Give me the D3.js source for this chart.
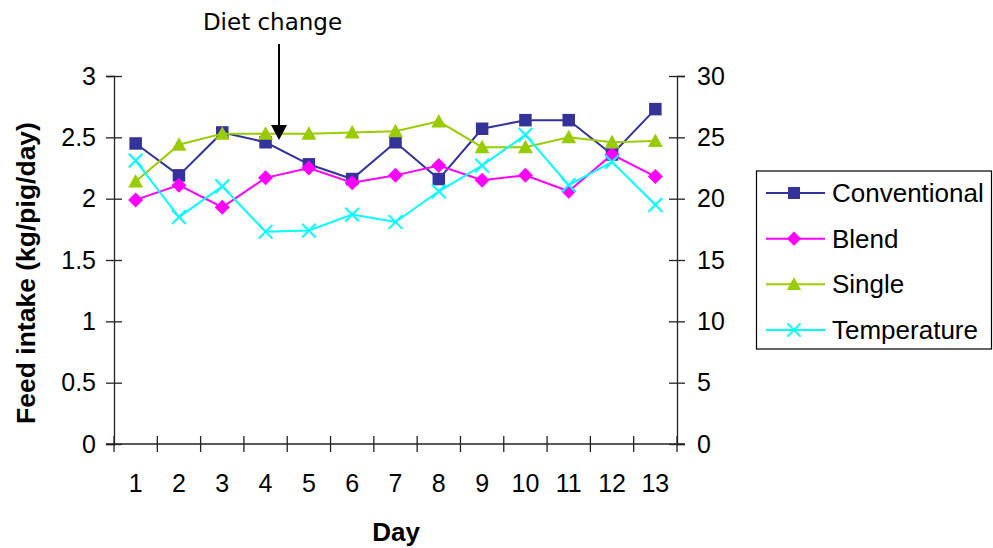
<!DOCTYPE html>
<html>
<head>
<meta charset="utf-8">
<script src="https://cdn.jsdelivr.net/npm/d3@7/dist/d3.min.js"></script>
<style>
  html, body { margin: 0; padding: 0; background: #fff; }
  svg { display: block; }
  text { font-family: "Liberation Sans", Arial, sans-serif; fill: #000; }
</style>
</head>
<body>
<svg id="chart" width="993" height="548"></svg>
<script>
const days = ["1","2","3","4","5","6","7","8","9","10","11","12","13"];
const conventional = [2.45, 2.19, 2.54, 2.46, 2.28, 2.16, 2.46, 2.16, 2.57, 2.64, 2.64, 2.36, 2.73];
const blend        = [1.99, 2.11, 1.93, 2.17, 2.25, 2.13, 2.19, 2.27, 2.15, 2.19, 2.06, 2.36, 2.18];
const single       = [2.14, 2.44, 2.53, 2.53, 2.53, 2.54, 2.55, 2.63, 2.42, 2.42, 2.50, 2.46, 2.47];
const temperature  = [23.1, 18.5, 21.0, 17.3, 17.4, 18.7, 18.1, 20.6, 22.7, 25.2, 21.1, 23.0, 19.5];
const leftTicks  = [0, 0.5, 1, 1.5, 2, 2.5, 3];
const rightTicks = [0, 5, 10, 15, 20, 25, 30];
const seriesNames = ["Conventional", "Blend", "Single", "Temperature"];

const svg = d3.select("#chart");
const L = 114, R = 677, T = 76, B = 444;

const x = d3.scaleBand().domain(days).range([L, R]).padding(0);
const yL = d3.scaleLinear().domain([0, 3]).range([B, T]);
const yR = d3.scaleLinear().domain([0, 30]).range([B, T]);

const axisColor = "#222";
const tickFont = "25px";

// Left axis
const gL = svg.append("g").attr("transform", `translate(${L},0)`)
  .call(d3.axisLeft(yL).tickValues(leftTicks).tickSize(8).tickPadding(10).tickFormat(d3.format("")));
gL.select(".domain").attr("stroke", axisColor).attr("stroke-width", 1.3);
gL.selectAll(".tick line").attr("x1", 8).attr("stroke", axisColor).attr("stroke-width", 1.3);
gL.selectAll(".tick text").style("font-size", tickFont).attr("fill", "#000");

// Right axis
const gR = svg.append("g").attr("transform", `translate(${R},0)`)
  .call(d3.axisRight(yR).tickValues(rightTicks).tickSize(8).tickPadding(12));
gR.select(".domain").attr("stroke", axisColor).attr("stroke-width", 1.3);
gR.selectAll(".tick line").attr("x1", -8).attr("stroke", axisColor).attr("stroke-width", 1.3);
gR.selectAll(".tick text").style("font-size", tickFont).attr("fill", "#000");

// Bottom axis (labels centered, ticks at boundaries)
const gB = svg.append("g").attr("transform", `translate(0,${B})`)
  .call(d3.axisBottom(x).tickSize(0).tickPadding(30));
gB.select(".domain").remove();
gB.selectAll(".tick text").style("font-size", tickFont).attr("fill", "#000");
gB.append("line").attr("x1", L - 8).attr("x2", R + 8).attr("y1", 0).attr("y2", 0)
  .attr("stroke", axisColor).attr("stroke-width", 1.3);
const bounds = days.map(d => x(d)).concat([x.range()[1]]);
gB.selectAll("line.bt").data(bounds).enter().append("line").attr("class", "bt")
  .attr("x1", d => d).attr("x2", d => d).attr("y1", -8).attr("y2", 8)
  .attr("stroke", axisColor).attr("stroke-width", 1.3);

// Axis titles
svg.append("text").attr("x", 396).attr("y", 541).attr("text-anchor", "middle")
  .style("font-size", "26px").style("font-weight", "bold").text("Day");
svg.append("text").attr("transform", `translate(35,273) rotate(-90)`)
  .attr("text-anchor", "middle").style("font-size", "26.5px").style("font-weight", "bold")
  .text("Feed intake (kg/pig/day)");

// Series
const cx = d => x(d) + x.bandwidth() / 2;
const series = [
  { name: "Conventional", values: conventional, color: "#333399", y: yL, marker: "square" },
  { name: "Blend",        values: blend,        color: "#FF00FF", y: yL, marker: "diamond" },
  { name: "Single",       values: single,       color: "#99CC00", y: yL, marker: "triangle" },
  { name: "Temperature",  values: temperature,  color: "#00FFFF", y: yR, marker: "x" }
];

function drawMarker(g, type, color, px, py, s) {
  if (type === "square") {
    g.append("rect").attr("x", px - s/2).attr("y", py - s/2).attr("width", s).attr("height", s).attr("fill", color);
  } else if (type === "diamond") {
    const h = s * 0.6;
    g.append("path").attr("d", `M${px},${py-h}L${px+h},${py}L${px},${py+h}L${px-h},${py}Z`).attr("fill", color);
  } else if (type === "triangle") {
    const h = s * 0.6;
    g.append("path").attr("d", `M${px},${py-h}L${px+h},${py+h*0.8}L${px-h},${py+h*0.8}Z`).attr("fill", color);
  } else {
    const h = s * 0.55;
    g.append("path").attr("d", `M${px-h},${py-h}L${px+h},${py+h}M${px+h},${py-h}L${px-h},${py+h}`)
      .attr("stroke", color).attr("stroke-width", 2).attr("fill", "none");
  }
}

series.forEach(s => {
  const line = d3.line().x((v, i) => cx(days[i])).y(v => s.y(v));
  const g = svg.append("g");
  g.append("path").datum(s.values).attr("d", line).attr("fill", "none")
    .attr("stroke", s.color).attr("stroke-width", 2);
  s.values.forEach((v, i) => drawMarker(g, s.marker, s.color, cx(days[i]), s.y(v), 12.5));
});

// Diet change annotation
const ax = 279;
svg.append("text").attr("x", 272.5).attr("y", 30).attr("text-anchor", "middle")
  .style("font-family", "'DejaVu Sans', Verdana, sans-serif").style("font-size", "23px").text("Diet change");
svg.append("line").attr("x1", ax).attr("x2", ax).attr("y1", 44).attr("y2", 128)
  .attr("stroke", "#000").attr("stroke-width", 2);
svg.append("path").attr("d", `M${ax-8},125L${ax+8},125L${ax},140Z`).attr("fill", "#000");

// Legend
const lg = svg.append("g");
lg.append("rect").attr("x", 756.5).attr("y", 171).attr("width", 235).attr("height", 178)
  .attr("fill", "#fff").attr("stroke", "#000").attr("stroke-width", 1.2);
const rowY = d3.scalePoint().domain(seriesNames).range([193, 330]);
series.forEach(s => {
  const yy = rowY(s.name);
  lg.append("line").attr("x1", 766).attr("x2", 825).attr("y1", yy).attr("y2", yy)
    .attr("stroke", s.color).attr("stroke-width", 2);
  drawMarker(lg, s.marker, s.color, 794, yy, 12);
  lg.append("text").attr("x", 832).attr("y", yy).attr("dy", "0.35em")
    .style("font-size", "26px").text(s.name);
});
</script>
</body>
</html>
